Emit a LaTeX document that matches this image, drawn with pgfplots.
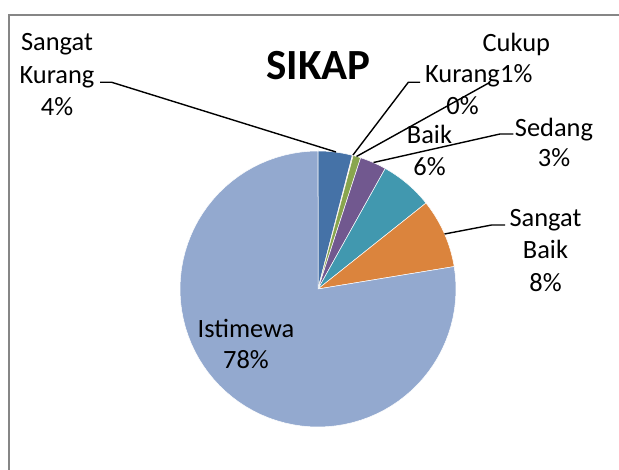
\documentclass[border=0pt]{standalone}
\usepackage{fontspec}
\setmainfont{Carlito}
\usepackage{pgfplots}
\usepackage{pgfplotstable}
\pgfplotsset{compat=1.18}

\definecolor{cBlue}{HTML}{4572A7}
\definecolor{cRed}{HTML}{AA4643}
\definecolor{cGreen}{HTML}{89A54E}
\definecolor{cPurple}{HTML}{71588F}
\definecolor{cTeal}{HTML}{4198AF}
\definecolor{cOrange}{HTML}{DB843D}
\definecolor{cLight}{HTML}{93A9CF}
\definecolor{frameGray}{HTML}{868686}

\pgfplotstableread{
label value color
SangatKurang 4.0 cBlue
Kurang 0.1 cRed
Cukup 0.9 cGreen
Sedang 3.1 cPurple
Baik 6.2 cTeal
SangatBaik 8.1 cOrange
Istimewa 77.6 cLight
}\piedata

\newcommand\labfont{\fontsize{26.4}{32.5}\selectfont}

\begin{document}
\begin{tikzpicture}
\useasboundingbox (0,0) rectangle (619pt,470pt);
\begin{axis}[at={(0,0)}, anchor=origin, x=1pt, y=1pt,
  xmin=0, xmax=619, ymin=0, ymax=470,
  hide axis, clip=false, scale only axis]
\gdef\cumsum{0}
\pgfplotsinvokeforeach{0,...,6}{%
  \pgfplotstablegetelem{#1}{value}\of\piedata \let\pieval\pgfplotsretval
  \pgfplotstablegetelem{#1}{color}\of\piedata \let\piecol\pgfplotsretval
  \pgfmathsetmacro\pieend{\cumsum+\pieval}%
  \edef\doslice{\noexpand\addplot[fill=\piecol, draw=white, line width=0.5pt,
     domain=\cumsum:\pieend, samples=80]
     ({318+138*sin(3.6*x)},{181+138*cos(3.6*x)}) -- (axis cs:318,181) -- cycle;}%
  \doslice
  \xdef\cumsum{\pieend}%
}

% frame
\draw[frameGray, line width=2.4pt] (axis cs:9,0) -- (axis cs:9,455) -- (axis cs:619,455);

% title
\node[anchor=base, inner sep=0pt, font=\fontsize{43}{50}\selectfont\bfseries] at (axis cs:318.4,390) {SIKAP};

% leader lines
\draw[black, line width=1.4pt] (axis cs:100,387.7) -- (axis cs:111.7,387.7) -- (axis cs:336,318);
\draw[black, line width=1.4pt] (axis cs:420,387.7) -- (axis cs:408.3,387.7) -- (axis cs:353,315);
\draw[black, line width=1.4pt] (axis cs:490,387.7) -- (axis cs:356.5,313.5);
\draw[black, line width=1.4pt] (axis cs:513.3,336) -- (axis cs:500,336) -- (axis cs:373.5,307.5);
\draw[black, line width=1.4pt] (axis cs:505,245) -- (axis cs:491.7,245) -- (axis cs:444.5,236);

% labels
\node[anchor=base, inner sep=0pt, font=\labfont] at (axis cs:57,419.3) {Sangat};
\node[anchor=base, inner sep=0pt, font=\labfont] at (axis cs:57,386) {Kurang};
\node[anchor=base, inner sep=0pt, font=\labfont] at (axis cs:57,354) {4\%};

\node[anchor=base, inner sep=0pt, font=\labfont] at (axis cs:516.3,418.3) {Cukup};
\node[anchor=base, inner sep=0pt, font=\labfont] at (axis cs:516.3,387.3) {1\%};

\node[anchor=base, inner sep=0pt, font=\labfont] at (axis cs:462.5,387.3) {Kurang};
\node[anchor=base, inner sep=0pt, font=\labfont] at (axis cs:462.5,355) {0\%};

\node[anchor=base, inner sep=0pt, font=\labfont] at (axis cs:429.5,326) {Baik};
\node[anchor=base, inner sep=0pt, font=\labfont] at (axis cs:429.5,294) {6\%};

\node[anchor=base, inner sep=0pt, font=\labfont] at (axis cs:554,333.3) {Sedang};
\node[anchor=base, inner sep=0pt, font=\labfont] at (axis cs:554,303.3) {3\%};

\node[anchor=base, inner sep=0pt, font=\labfont] at (axis cs:545.5,243.3) {Sangat};
\node[anchor=base, inner sep=0pt, font=\labfont] at (axis cs:545.5,211.7) {Baik};
\node[anchor=base, inner sep=0pt, font=\labfont] at (axis cs:545.5,178.3) {8\%};

\node[anchor=base, inner sep=0pt, font=\labfont] at (axis cs:246,132.7) {Istimewa};
\node[anchor=base, inner sep=0pt, font=\labfont] at (axis cs:246,101.7) {78\%};
\end{axis}
\end{tikzpicture}
\end{document}
